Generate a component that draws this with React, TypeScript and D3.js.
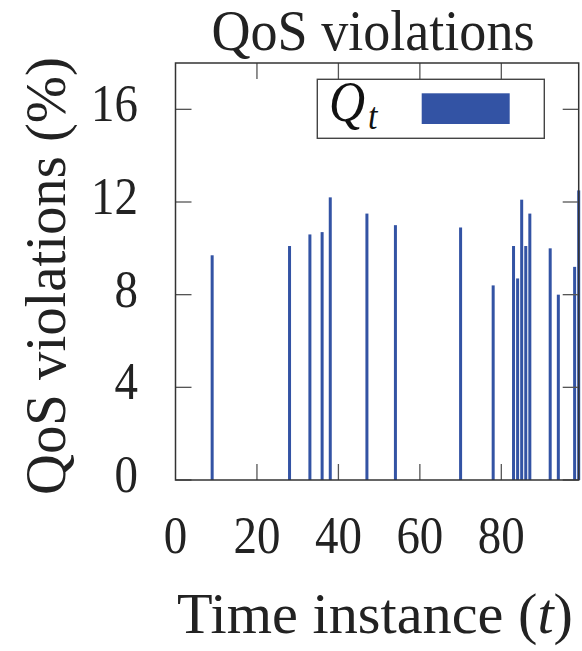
import React, { useEffect, useRef } from "react";
import * as d3 from "d3";

// time instances where a QoS violation happened, and its size in %
const instances = [9, 28, 33, 36, 38, 47, 54, 70, 78, 83, 84, 85, 86, 87, 92, 94, 98, 99];
const violations = [9.7, 10.1, 10.6, 10.7, 12.2, 11.5, 11.0, 10.9, 8.4, 10.1, 8.7, 12.1, 10.1, 11.5, 10.0, 8.0, 9.2, 12.5];
const xTicks = [20, 40, 60, 80];
const xLabels = [0, 20, 40, 60, 80];
const yTicks = [0, 4, 8, 12, 16];

const W = 582;
const H = 651;
const FONT = "'Liberation Serif', 'DejaVu Serif', serif";
const BLUE = "#3353a4";
const SY = 1.12; // the original text is a bit taller than wide

function App() {
  const ref = useRef<SVGSVGElement | null>(null);

  useEffect(() => {
    const svg = d3.select(ref.current);
    svg.selectAll("*").remove();

    const left = 175.5, right = 578.7, top = 63, bottom = 480;
    const x = d3.scaleLinear().domain([0, 99]).range([left, right]);
    const y = d3.scaleLinear().domain([0, 18]).range([bottom, top]);

    // bars
    const data = instances.map((t, i) => ({ t, v: violations[i] }));
    svg.append("g").selectAll("rect").data(data).join("rect")
      .attr("x", d => x(d.t) - 1.5)
      .attr("y", d => y(d.v))
      .attr("width", 3)
      .attr("height", d => y(0) - y(d.v))
      .attr("fill", BLUE);

    // inner ticks on all four sides
    const tk = 16;
    const ticks = svg.append("g").attr("stroke", "#555").attr("stroke-width", 1.3);
    yTicks.forEach(v => {
      ticks.append("line").attr("x1", left).attr("x2", left + tk).attr("y1", y(v)).attr("y2", y(v));
      ticks.append("line").attr("x1", right - tk).attr("x2", right).attr("y1", y(v)).attr("y2", y(v));
    });
    xTicks.forEach(v => {
      ticks.append("line").attr("x1", x(v)).attr("x2", x(v)).attr("y1", bottom).attr("y2", bottom - tk);
      ticks.append("line").attr("x1", x(v)).attr("x2", x(v)).attr("y1", top).attr("y2", top + tk);
    });

    // frame
    svg.append("rect")
      .attr("x", left).attr("y", top)
      .attr("width", right - left).attr("height", bottom - top)
      .attr("fill", "none").attr("stroke", "#333").attr("stroke-width", 1.5);

    const label = (tx: number, ty: number, txt: string, anchor: string, size: number, rot = 0, len?: number) => {
      const g = svg.append("g").attr("transform", `translate(${tx},${ty}) rotate(${rot}) scale(1,${SY})`);
      const t = g.append("text")
        .attr("text-anchor", anchor)
        .attr("font-family", FONT)
        .attr("font-size", size)
        .attr("fill", "#222")
        .text(txt);
      if (len) t.attr("textLength", len).attr("lengthAdjust", "spacingAndGlyphs");
      return t;
    };

    // tick labels
    yTicks.forEach(v => label(138, y(v) + 12, String(v), "end", 47));
    xLabels.forEach(v => label(x(v), 553, String(v), "middle", 47));

    // titles
    label(373, 50, "QoS violations", "middle", 50, 0, 323);
    const xl = label(375, 633, "Time instance (", "middle", 50, 0, 396);
    xl.text(null);
    xl.append("tspan").text("Time instance (");
    xl.append("tspan").attr("font-style", "italic").text("t");
    xl.append("tspan").text(")");
    label(65, 276, "QoS violations (%)", "middle", 50, -90, 438);

    // legend
    svg.append("rect")
      .attr("x", 317.3).attr("y", 79.3).attr("width", 227).attr("height", 59)
      .attr("fill", "#fff").attr("stroke", "#444").attr("stroke-width", 1.4);
    const lq = svg.append("g").attr("transform", `translate(329,121) scale(1,${SY})`);
    lq.append("text").attr("font-family", FONT).attr("font-style", "italic")
      .attr("font-size", 50).attr("fill", "#111").text("Q");
    const lt = svg.append("g").attr("transform", `translate(368,129) scale(1,${SY})`);
    lt.append("text").attr("font-family", FONT).attr("font-style", "italic")
      .attr("font-size", 34).attr("fill", "#111").text("t");
    svg.append("rect")
      .attr("x", 421.7).attr("y", 93.3).attr("width", 88).attr("height", 30.7)
      .attr("fill", BLUE);
  }, []);

  return (
    <svg ref={ref} width={W} height={H}
      style={{ position: "absolute", left: 0, top: 0, background: "#fff" }} />
  );
}

export default App;
